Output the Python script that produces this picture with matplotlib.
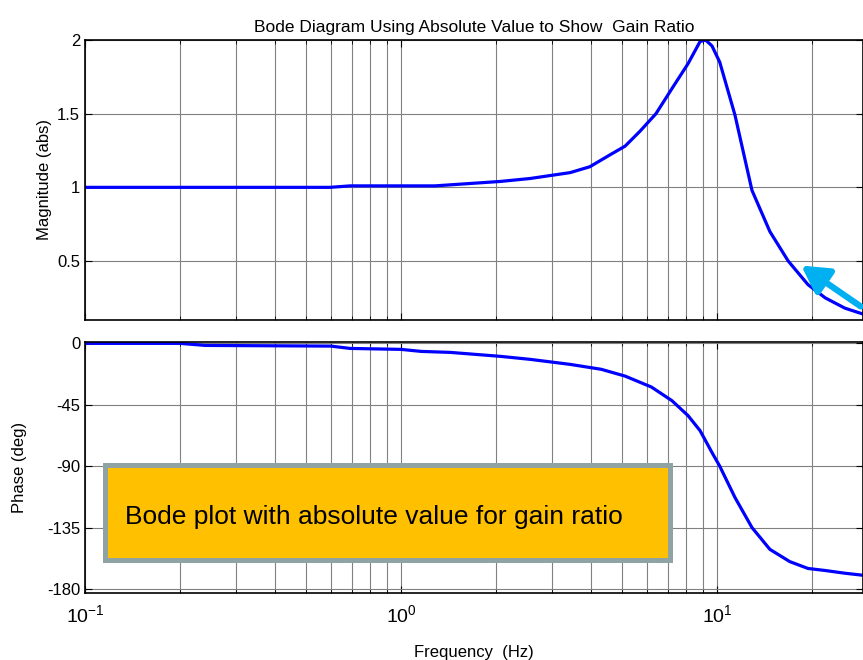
import matplotlib
matplotlib.use("Agg")
import matplotlib.pyplot as plt
from matplotlib.patches import Rectangle, FancyArrowPatch
from matplotlib.ticker import LogLocator, NullFormatter
import numpy as np

plt.rcParams['font.family'] = ['Liberation Sans', 'DejaVu Sans']
plt.rcParams['axes.unicode_minus'] = False

# values
freq_mag = [0.1, 0.2, 0.4, 0.596, 0.69, 1.0, 1.28, 2.06, 2.56, 3.43, 3.96, 4.58, 5.12,
            5.7, 6.41, 7.2, 8.1, 8.84, 9.2, 9.64, 10.2, 11.4, 12.9, 14.7, 16.8,
            19.4, 22.0, 25.4, 29.0]
mag = [1.0, 1.0, 1.0, 1.0, 1.01, 1.01, 1.01, 1.04, 1.06, 1.10, 1.14, 1.22, 1.28,
       1.38, 1.50, 1.67, 1.84, 1.99, 2.0, 1.96, 1.85, 1.49, 0.98, 0.70, 0.50,
       0.34, 0.25, 0.18, 0.14]

freq_ph = [0.1, 0.2, 0.24, 0.6, 0.69, 1.0, 1.16, 1.43, 2.06, 2.56, 3.43, 4.3, 5.12,
           6.2, 7.2, 8.1, 8.84, 9.64, 10.2, 11.4, 12.9, 14.7, 17.0, 19.4, 22.0,
           25.4, 29.0]
phase = [0, 0, -1.5, -2, -3.7, -4.4, -5.9, -6.6, -9.5, -11.7, -15.4, -19, -24,
         -32, -42, -53, -64, -80, -90, -113, -135, -151, -160, -165, -166.5,
         -168.5, -170]

mag_ticks = [0.5, 1, 1.5, 2]
phase_ticks = [0, -45, -90, -135, -180]
f_lo, f_hi = 0.1, 10 ** 1.462

fig = plt.figure(figsize=(8.63, 6.60), dpi=100)
ax1 = fig.add_axes([0.0985, 0.5152, 0.9015, 0.4242])
ax2 = fig.add_axes([0.0985, 0.1015, 0.9015, 0.3803])

for ax in (ax1, ax2):
    ax.set_xscale('log')
    ax.set_xlim(f_lo, f_hi)
    ax.xaxis.set_minor_locator(LogLocator(base=10, subs=np.arange(2, 10)))
    ax.xaxis.set_minor_formatter(NullFormatter())
    ax.grid(True, which='both', axis='x', color='#808080', lw=0.8)
    ax.grid(True, which='major', axis='y', color='#808080', lw=0.8)
    ax.tick_params(which='both', direction='in', top=True, right=True, labelsize=12)
    ax.tick_params(which='major', length=5)
    ax.tick_params(which='minor', length=3)
    for s in ax.spines.values():
        s.set_linewidth(1.2)

ax1.plot(freq_mag, mag, color='#0000ff', lw=2.3)
ax1.set_ylim(0.1, 2.0)
ax1.set_yticks(mag_ticks)
ax1.set_yticklabels(['0.5', '1', '1.5', '2'])
ax1.tick_params(labelbottom=False)
ax1.set_ylabel('Magnitude (abs)', fontsize=12)
ax1.set_title('Bode Diagram Using Absolute Value to Show  Gain Ratio', fontsize=12.5, pad=6)

ax2.plot(freq_ph, phase, color='#0000ff', lw=2.3)
ax2.set_ylim(-183, 1)
ax2.set_yticks(phase_ticks)
ax2.set_ylabel('Phase (deg)', fontsize=12, labelpad=14)
ax2.set_xlabel('Frequency  (Hz)', fontsize=12, labelpad=14)
ax2.tick_params(axis='x', pad=8, labelsize=14)

# annotation box
fig.patches.append(Rectangle((0.1217, 0.1515), 0.6547, 0.1439, transform=fig.transFigure,
                             facecolor='#ffc000', edgecolor='#8fa3a5', lw=3.6, zorder=5))
fig.text(0.145, 0.2167, 'Bode plot with absolute value for gain ratio', fontsize=19,
         va='center', ha='left', zorder=6)

# arrow
fig.patches.append(FancyArrowPatch((1.0, 1 - 308 / 660), (799 / 863, 1 - 264 / 660),
                                   transform=fig.transFigure,
                                   arrowstyle='-|>,head_length=16,head_width=9',
                                   color='#00b0f0', lw=4.5, zorder=6))

fig.savefig('out.png', dpi=100)
